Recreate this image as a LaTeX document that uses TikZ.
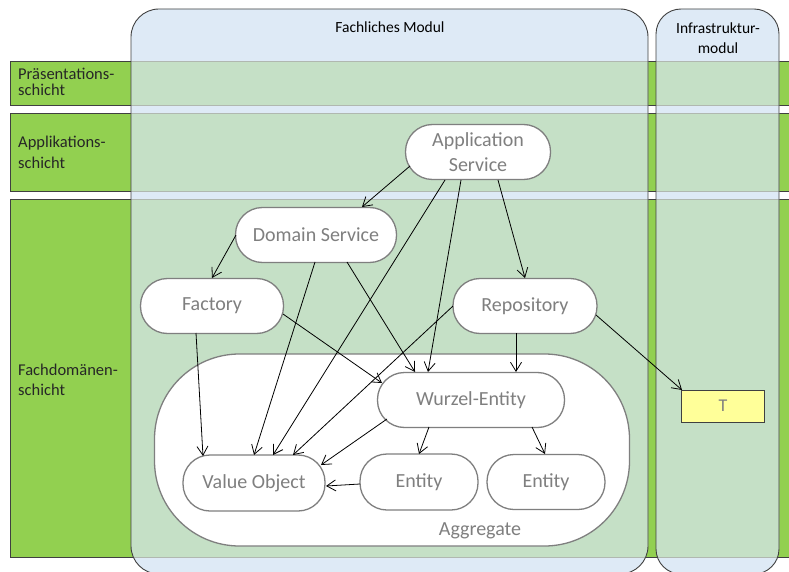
\documentclass[tikz,border=0pt]{standalone}
\usepackage{fontspec}
\setmainfont{Carlito}
\usetikzlibrary{arrows.meta,calc}
\definecolor{layergreen}{HTML}{92D050}
\definecolor{innergreen}{HTML}{C5E0C6}
\definecolor{modblue}{HTML}{DEEAF6}
\definecolor{nodegray}{HTML}{7F7F7F}
\definecolor{framegray}{HTML}{404040}
\definecolor{stripgray}{HTML}{B0B8B0}
\definecolor{tyellow}{HTML}{FFFF99}
\begin{document}
\begin{tikzpicture}[x=1pt,y=-1pt,
  pill/.style={draw=nodegray, line width=1.3pt, fill=white, rounded corners=27pt,
    minimum height=55pt, text=nodegray, font=\fontsize{20}{25}\selectfont,
    inner sep=0pt, align=center},
  dep/.style={-{Straight Barb[length=9pt,width=11pt]}, line width=0.8pt, black},
  layertext/.style={anchor=base west, inner sep=0pt, text=black!85,
    font=\fontsize{16.5}{20}\selectfont},
  modtitle/.style={inner sep=0pt, text=black, font=\fontsize{15.5}{20}\selectfont, align=center},
  band/.style={fill=layergreen, draw=framegray, line width=0.8pt},
  innerband/.style={fill=innergreen, draw=stripgray, line width=0.6pt},
  modframe/.style={draw=framegray, line width=0.9pt}]
\useasboundingbox (0,0) rectangle (789,572);

% layer bands across the whole width
\path[band] (10,61) rectangle (800,105);
\path[band] (10,113) rectangle (800,191);
\path[band] (10,199) rectangle (800,557);

% module columns
\fill[modblue, rounded corners=28pt] (131,9) rectangle (648,574);
\fill[modblue, rounded corners=25pt] (656,9) rectangle (779,574);
\begin{scope}
  \clip[rounded corners=28pt] (131,9) rectangle (648,574);
  \path[innerband] (100,61) rectangle (700,105);
  \path[innerband] (100,113) rectangle (700,191);
  \path[innerband] (100,199) rectangle (700,557);
\end{scope}
\begin{scope}
  \clip[rounded corners=25pt] (656,9) rectangle (779,574);
  \path[innerband] (600,61) rectangle (800,105);
  \path[innerband] (600,113) rectangle (800,191);
  \path[innerband] (600,199) rectangle (800,557);
\end{scope}
\draw[modframe, rounded corners=28pt] (131,9) rectangle (648,574);
\draw[modframe, rounded corners=25pt] (656,9) rectangle (779,574);

% titles
\node[modtitle] (fm) at (390,27) {Fachliches Modul};
\node[modtitle] (im) at (718,38) {Infrastruktur-\\modul};

% layer labels
\node[layertext] (lp1) at (18,80) {Präsentations-};
\node[layertext] (lp2) at (18,96) {schicht};
\node[layertext] (la1) at (18,148) {Applikations-};
\node[layertext] (la2) at (18,169) {schicht};
\node[layertext] (lf1) at (18,375) {Fachdomänen-};
\node[layertext] (lf2) at (18,395) {schicht};

% aggregate
\node[draw=nodegray, line width=1.3pt, fill=white, rounded corners=85pt,
  minimum width=475pt, minimum height=192pt, inner sep=0pt] (agg) at (392,450) {};
\node[text=nodegray, font=\fontsize{20}{24}\selectfont, inner sep=0pt] (aggl) at (480,531) {Aggregate};

% building blocks
\node[pill, minimum width=145pt] (app) at (478,152) {Application\\Service};
\node[pill, minimum width=161pt] (ds) at (316,235) {Domain Service};
\node[pill, minimum width=143pt] (fac) at (212,306) {Factory};
\node[pill, minimum width=144pt] (repo) at (525,306) {Repository};
\node[pill, minimum width=187pt] (we) at (471,400) {Wurzel-Entity};
\node[pill, minimum width=142pt, minimum height=56pt] (vo) at (254,483) {Value Object};
\node[pill, minimum width=118pt, minimum height=56pt] (e1) at (419,482) {Entity};
\node[pill, minimum width=118pt] (e2) at (546,482) {Entity};
\node[draw=framegray, line width=0.9pt, fill=tyellow, minimum width=83pt,
  minimum height=32pt, inner sep=0pt, text=nodegray,
  font=\fontsize{18}{20}\selectfont] (t) at (723,406) {T};

% dependencies
\draw[dep] ($(app)+(-68,14)$) -- ($(ds)+(46,-28)$);
\draw[dep] ($(app)+(-33,28)$) -- ($(vo)+(19,-28)$);
\draw[dep] ($(app)+(-17,28)$) -- ($(we)+(-43,-28)$);
\draw[dep] ($(app)+(20,28)$) -- ($(repo)+(0,-28)$);
\draw[dep] ($(ds)+(-80,0)$) -- ($(fac)+(0,-28)$);
\draw[dep] ($(ds)+(-1,27)$) -- ($(vo)+(0,-28)$);
\draw[dep] ($(ds)+(31,27)$) -- ($(we)+(-56,-28)$);
\draw[dep] ($(fac)+(-16,27)$) -- ($(vo)+(-51,-27)$);
\draw[dep] ($(fac)+(71,8)$) -- ($(we)+(-89,-17)$);
\draw[dep] ($(repo)+(-72,0)$) -- ($(vo)+(39,-28)$);
\draw[dep] ($(repo)+(-9,27)$) -- ($(we)+(45,-28)$);
\draw[dep] ($(repo)+(71,9)$) -- ($(t)+(-41,-16)$);
\draw[dep] ($(we)+(-84,19)$) -- ($(vo)+(67,-18)$);
\draw[dep] ($(we)+(-42,27)$) -- ($(e1)+(0,-28)$);
\draw[dep] ($(we)+(61,27)$) -- ($(e2)+(-1,-28)$);
\draw[dep] ($(e1)+(-59,2)$) -- ($(vo)+(72,3)$);
\end{tikzpicture}
\end{document}
